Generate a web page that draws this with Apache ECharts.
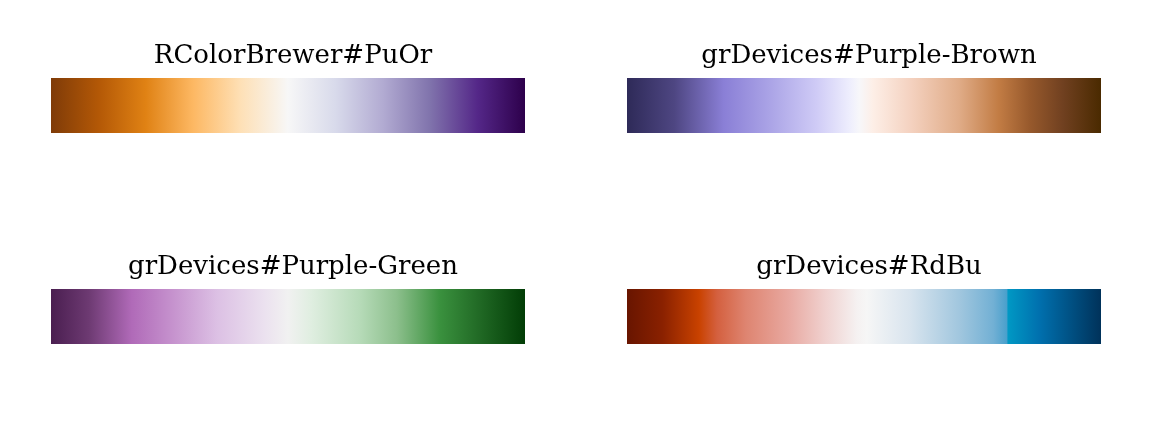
<!DOCTYPE html>
<html>
<head>
<meta charset="utf-8">
<script src="https://cdn.jsdelivr.net/npm/echarts@6/dist/echarts.min.js"></script>
<style>
  html, body { margin: 0; padding: 0; background: #fff; }
  #main { width: 1152px; height: 422px; }
</style>
</head>
<body>
<div id="main"></div>
<script>
// palette names (panel titles)
const titles = [
  'RColorBrewer#PuOr',
  'grDevices#Purple-Brown',
  'grDevices#Purple-Green',
  'grDevices#RdBu'
];

// colour stops: position along the bar (0..1) and colour
const puOrPos = [0, 0.1, 0.2, 0.3, 0.4, 0.5, 0.6, 0.7, 0.8, 0.9, 1];
const puOrCol = ['#7f3b08', '#b35806', '#e08214', '#fdb863', '#fee0b6', '#f7f7f7',
  '#d8daeb', '#b2abd2', '#8073ac', '#542788', '#2d004b'];

const purpleBrownPos = [0, 0.1, 0.204, 0.3, 0.4, 0.47, 0.49, 0.52, 0.6, 0.7, 0.784, 0.85, 0.92, 1];
const purpleBrownCol = ['#2e2a58', '#4e4682', '#8a7fd6', '#aaa3e6', '#cfcbf6', '#eeeefd', '#f7f7fa',
  '#fdeee6', '#f4d1bf', '#e0ac88', '#c27c44', '#97592c', '#704020', '#4a2a00'];

const purpleGreenPos = [0, 0.08, 0.17, 0.25, 0.35, 0.45, 0.5, 0.55, 0.65, 0.73, 0.82, 0.9, 1];
const purpleGreenCol = ['#4a1e50', '#6d3a72', '#b06ab8', '#c48fcc', '#dcc0e4', '#ebe1ef',
  '#f1f1f1', '#dfeee0', '#b7dbb9', '#8cbf8c', '#3a913e', '#226b26', '#023d06'];

const rdBuPos = [0, 0.075, 0.152, 0.19, 0.25, 0.34, 0.42, 0.485, 0.506,
  0.597, 0.703, 0.773, 0.801, 0.804, 0.87, 1];
const rdBuCol = ['#681500', '#8a2100', '#c94200', '#d4603f', '#de8470', '#e8a8a0',
  '#f0d2d0', '#f5f1f1', '#f6f6f6', '#d8e4ee', '#a0c6de', '#72b0d4', '#4aa0cc', '#0098c4',
  '#0070ae', '#00325a'];

const palettes = [
  [puOrPos, puOrCol],
  [purpleBrownPos, purpleBrownCol],
  [purpleGreenPos, purpleGreenCol],
  [rdBuPos, rdBuCol]
];

// panel boxes in px
const panelLeft = [51, 627, 51, 627];
const panelTop = [78, 78, 289, 289];
const panelW = 474;
const panelH = 55;

const chart = echarts.init(document.getElementById('main'), null, { renderer: 'canvas' });

var grids = [], xAxes = [], yAxes = [], series = [], titleList = [];

for (let i = 0; i < 4; i++) {
  grids.push({ left: panelLeft[i], top: panelTop[i], width: panelW, height: panelH });
  xAxes.push({ gridIndex: i, type: 'value', min: 0, max: 1, show: false });
  yAxes.push({ gridIndex: i, type: 'value', min: 0, max: 1, show: false });
  titleList.push({
    text: titles[i],
    left: panelLeft[i] + panelW / 2,
    top: panelTop[i] - 40,
    textAlign: 'center',
    textStyle: { fontFamily: 'DejaVu Serif', fontWeight: 'normal', fontSize: 26, color: '#000' }
  });

  let pos = palettes[i][0];
  let col = palettes[i][1];
  let stops = [];
  for (let j = 0; j < pos.length; j++) {
    stops.push({ offset: pos[j], color: col[j] });
  }
  series.push({
    type: 'custom',
    xAxisIndex: i,
    yAxisIndex: i,
    silent: true,
    data: [[pos[0], pos[pos.length - 1]]],
    renderItem: function (params, api) {
      let p0 = api.coord([api.value(0), 0]);
      let p1 = api.coord([api.value(1), 1]);
      return {
        type: 'rect',
        shape: { x: p0[0], y: p1[1], width: p1[0] - p0[0], height: p0[1] - p1[1] },
        style: { fill: new echarts.graphic.LinearGradient(0, 0, 1, 0, stops) }
      };
    },
    encode: { x: [0, 1] }
  });
}

chart.setOption({
  animation: false,
  title: titleList,
  grid: grids,
  xAxis: xAxes,
  yAxis: yAxes,
  series: series
});
</script>
</body>
</html>
